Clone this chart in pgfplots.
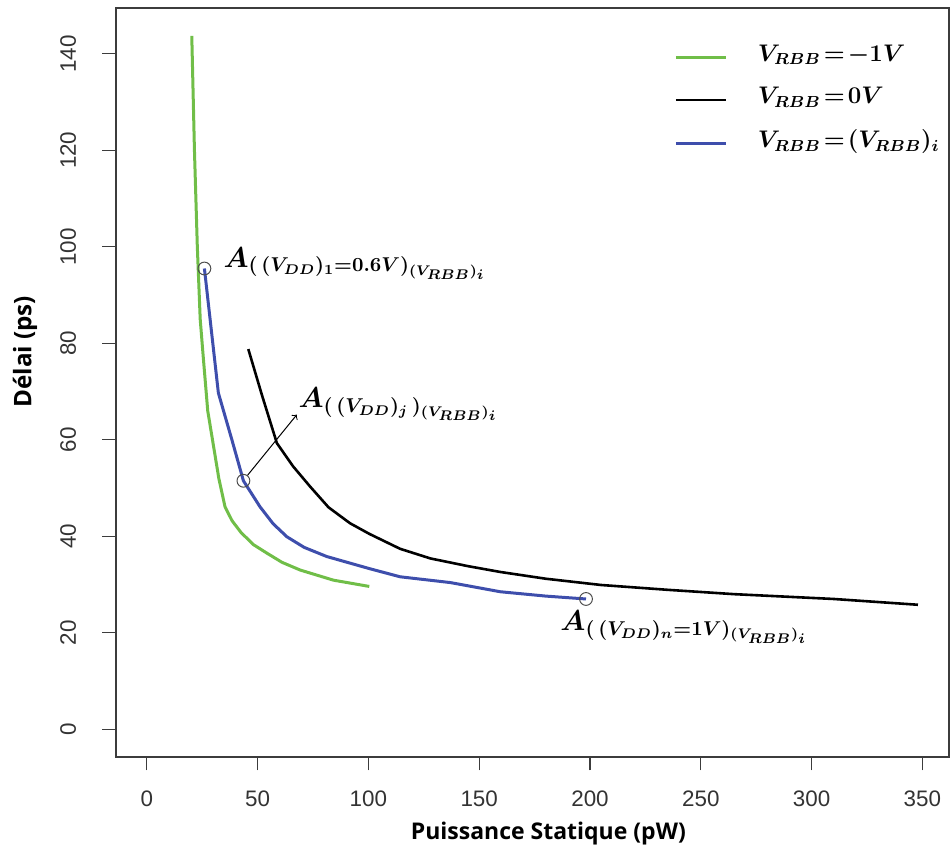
\documentclass[border=0pt]{standalone}
\usepackage{fontspec}
\usepackage{amsmath}
\usepackage{pgfplots}
\pgfplotsset{compat=1.18}
\setmainfont{Liberation Sans}
\newfontfamily\labfont{Open Sans}
\definecolor{cgreen}{RGB}{112,190,72}
\definecolor{cblue}{RGB}{62,78,172}
\definecolor{caxis}{RGB}{60,60,60}
\newcommand\lgt[1]{$\thickmuskip=2mu\relax\boldsymbol{#1}$}
\begin{document}
\begin{tikzpicture}
\begin{axis}[
  name=ax,
  scale only axis,
  width=416.5pt, height=374.5pt,
  xmin=-13.9, xmax=362, ymin=-5.75, ymax=149.5,
  xtick={0,50,...,350}, ytick={0,20,...,140},
  tick align=outside, major tick length=6.75pt,
  xtick pos=bottom, ytick pos=left,
  axis line style={draw=caxis, line width=0.6pt},
  tick style={draw=caxis, line width=0.6pt},
  /pgf/number format/assume math mode=true,
  tick label style={font=\fontsize{11.2}{13}\selectfont, text=black!80},
  xticklabel style={anchor=north, inner sep=0pt, yshift=-10pt},
  yticklabel style={rotate=90, anchor=south, inner sep=0pt, yshift=13pt},
  xlabel={\labfont\bfseries Puissance Statique (pW)},
  ylabel={\labfont\bfseries Délai (ps)},
  xlabel style={at={(axis description cs:0.519,-0.1108)}, anchor=base, inner sep=0pt, font=\fontsize{11.5}{14}\selectfont},
  ylabel style={at={(axis description cs:-0.1015,0.541)}, anchor=base, inner sep=0pt, font=\fontsize{12.1}{14}\selectfont},
  legend style={at={(rel axis cs:0.6626,0.962)}, anchor=north west, draw=none, fill=none,
    row sep=7.5pt, font=\fontsize{12}{15}\selectfont},
  legend cell align=left,
  legend image code/.code={\draw[#1] (0pt,-1.5pt) -- (25pt,-1.5pt); \path[draw=none] (39pt,-1.5pt);},
]
\addplot[cgreen, line width=1.5pt] coordinates {
(20.3,143.7)(21.5,120)(22.8,100)(24.1,85)(25.5,77)(27.5,66)(30,59)(32.5,52)(35.3,46.1)(38.5,43.2)(42.5,40.8)(48,38.3)(54.2,36.5)(61,34.6)(69.2,33.0)(84.2,30.9)(100.4,29.6)};
\addlegendentry{\lgt{V_{RBB}=-1V}}
\addplot[black, line width=1.3pt] coordinates {
(45.8,78.8)(52,69.2)(58.7,59.3)(66,54.5)(73.7,50.3)(82,46)(91.7,42.7)(100.4,40.5)(114.3,37.4)(128,35.4)(145,33.8)(159.5,32.6)(180,31.2)(205,29.9)(235,28.9)(265,28)(310,27)(348,25.8)};
\addlegendentry{\lgt{V_{RBB}=0V}}
\addplot[cblue, line width=1.5pt] coordinates {
(26,95.5)(32.3,69.7)(38.4,60)(43.6,51.5)(51.1,46.1)(57,42.6)(63.2,39.9)(71,37.7)(81.2,35.8)(100.4,33.3)(114.3,31.6)(137,30.4)(159.5,28.5)(180,27.6)(198.2,27)};
\addlegendentry{\lgt{V_{RBB}=(V_{RBB})_i}}
\addplot[only marks, mark=o, mark size=3.2pt, mark options={draw=black!70, line width=0.5pt}, forget plot] coordinates {(26,95.5)(43.6,51.5)(198.2,27)};
\draw[->, line width=0.5pt] (axis cs:45.4,52.6) -- (axis cs:67.7,65.2);
\node[anchor=base west, inner sep=0pt, font=\fontsize{14}{16}\selectfont] at (axis cs:34.5,95.8) {$\boldsymbol{A_{(\,(V_{DD})_1=0.6V)_{(V_{RBB})_i}}}$};
\node[anchor=base west, inner sep=0pt, font=\fontsize{14}{16}\selectfont] at (axis cs:68.3,66.6) {$\boldsymbol{A_{(\,(V_{DD})_j\,)_{(V_{RBB})_i}}}$};
\node[anchor=base west, inner sep=0pt, font=\fontsize{14}{16}\selectfont] at (axis cs:186.5,20.4) {$\boldsymbol{A_{(\,(V_{DD})_n=1V)_{(V_{RBB})_i}}}$};
\end{axis}
\pgfresetboundingbox
\path ([shift={(-58pt,-51pt)}]ax.south west) rectangle ([shift={(1pt,4pt)}]ax.north east);
\end{tikzpicture}
\end{document}
